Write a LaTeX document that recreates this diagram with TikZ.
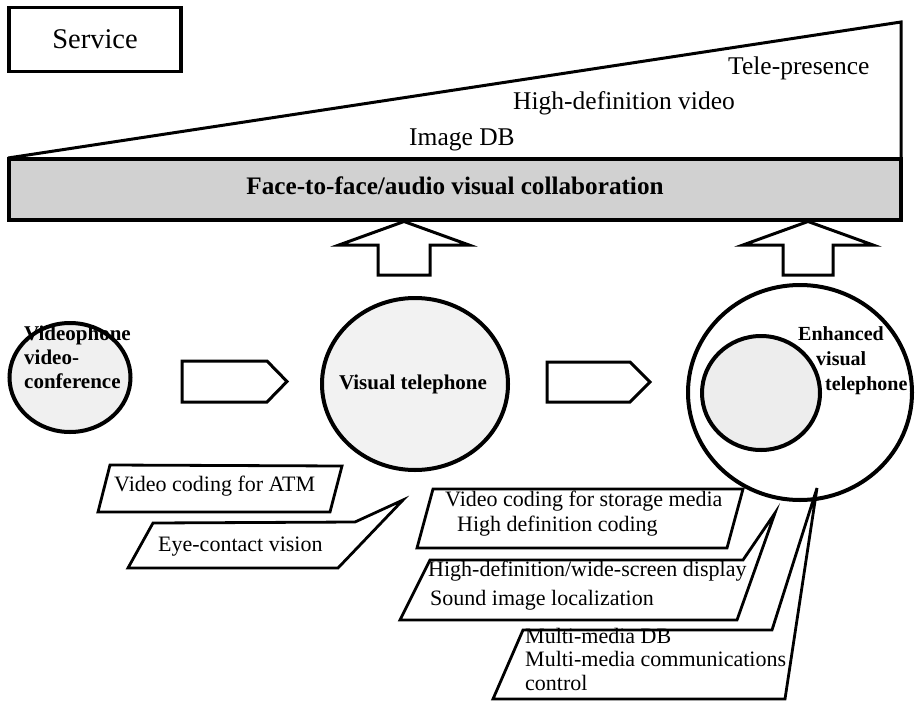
\documentclass[tikz,border=0pt]{standalone}
\usepackage{fontspec}
\setmainfont{Liberation Serif}
\usetikzlibrary{shapes.geometric}
\begin{document}
\begin{tikzpicture}[x=1pt,y=-1pt,line join=miter,
  txt/.style={inner sep=0pt,text height=0.68em,text depth=0.2em},
  big/.style={txt,font=\fontsize{25.5}{28}\selectfont},
  cfont/.style={txt,font=\fontsize{22}{24}\selectfont},
  bfont/.style={txt,font=\fontsize{21}{24}\selectfont\bfseries},
  callout/.style={draw,line width=2.8pt,fill=white},
  blockarrow/.style={draw,line width=3pt,fill=white},
  circ/.style={draw,ellipse,line width=4pt,inner sep=0pt}]
\useasboundingbox (0,0) rectangle (915,701);
\fill[white] (0,0) rectangle (915,701);

% Service box
\node[draw,line width=3.2pt,minimum width=172pt,minimum height=64pt,
      font=\fontsize{28.5}{30}\selectfont] (svc) at (95,39.5) {Service};

% wedge
\draw[line width=3pt] (8,158) -- (901,22) -- (901,159);
\node[big,anchor=west] (imgdb) at (409,143) {Image DB};
\node[big,anchor=west] (hdv) at (513,107) {High-definition video};
\node[big,anchor=west] (tele) at (728,72) {Tele-presence};

% bar
\filldraw[fill=black!18,line width=3.6pt] (9,159) rectangle (901,220);
\node[txt,font=\fontsize{25.2}{27}\selectfont\bfseries] (collab) at (455,192)
  {Face-to-face/audio visual collaboration};

% up arrows
\draw[blockarrow] (378,275) -- (378,245) -- (339,245) -- (404,221.5) -- (469,245)
  -- (430,245) -- (430,275) -- cycle;
\draw[blockarrow] (783,275) -- (783,245) -- (743,245) -- (808,221.5) -- (873,245)
  -- (833,245) -- (833,275) -- cycle;

% circles
\node[circ,fill=black!6,minimum width=121pt,minimum height=109pt] (c1) at (70,377.5) {};
\node[bfont,anchor=west,align=left] (t1) at (24,386)
  {Videophone\\video-\\conference};

\node[circ,fill=black!5,minimum width=186pt,minimum height=172pt] (c2) at (415,384) {};
\node[bfont] (t2) at (413,387) {Visual telephone};

\node[circ,fill=white,minimum width=224pt,minimum height=215pt] (c3) at (800,392.5) {};
\node[circ,fill=black!7,minimum width=118pt,minimum height=114pt] (c3i) at (761,393) {};
\node[txt,font=\fontsize{20}{22}\selectfont\bfseries,anchor=west] (t3a) at (798,338) {Enhanced};
\node[txt,font=\fontsize{20}{22}\selectfont\bfseries,anchor=west] (t3b) at (816,363) {visual};
\node[txt,font=\fontsize{20}{22}\selectfont\bfseries,anchor=west] (t3c) at (825,388) {telephone};

% pentagon arrows
\draw[blockarrow] (182,361) -- (267,361) -- (287,381.5) -- (267,402) -- (182,402) -- cycle;
\draw[blockarrow] (547,362) -- (630,362) -- (650,382) -- (630,402) -- (547,402) -- cycle;

% callouts
\draw[callout] (110,465) -- (342,466) -- (330,512) -- (98,512) -- cycle;
\node[cfont,anchor=west] (k1) at (114,489) {Video coding for ATM};

\draw[callout] (128,568) -- (153,523) -- (355,522) -- (403,500) -- (338,568) -- cycle;
\node[cfont,anchor=west] (k2) at (158,549) {Eye-contact vision};

\draw[callout] (417,548) -- (433,489) -- (743,489) -- (727,548) -- cycle;
\node[cfont,anchor=west] (k3a) at (445,504) {Video coding for storage media};
\node[cfont,anchor=west] (k3b) at (457,529) {High definition coding};

\draw[callout] (400,620) -- (430,560) -- (743,560) -- (775,513) -- (737,620) -- cycle;
\node[cfont,anchor=west] (k4a) at (428,574) {High-definition/wide-screen display};
\node[cfont,anchor=west] (k4b) at (430,603) {Sound image localization};

\draw[callout] (493,699) -- (523,630) -- (772,630) -- (817,488) -- (785,699) -- cycle;
\node[cfont,anchor=west] (k5a) at (525,641) {Multi-media DB};
\node[cfont,anchor=west] (k5b) at (525,664) {Multi-media communications};
\node[cfont,anchor=west] (k5c) at (525,688) {control};
\end{tikzpicture}
\end{document}
